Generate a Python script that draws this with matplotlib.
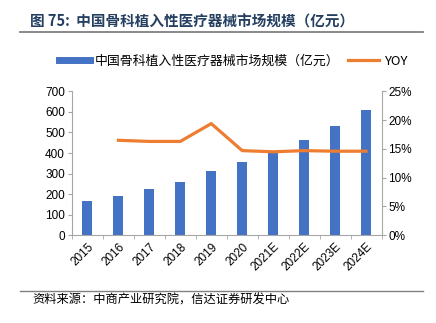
import matplotlib
matplotlib.use("Agg")
import matplotlib.pyplot as plt
from matplotlib.lines import Line2D
import numpy as np

plt.rcParams['font.family'] = ['Liberation Sans', 'Noto Sans CJK SC', 'DejaVu Sans']

years = ['2015', '2016', '2017', '2018', '2019', '2020', '2021E', '2022E', '2023E', '2024E']
market = [165, 193, 224, 260, 312, 356, 409, 463, 531, 609]
yoy = [np.nan, 16.5, 16.3, 16.3, 19.4, 14.7, 14.5, 14.7, 14.6, 14.6]
left_ticks = [0, 100, 200, 300, 400, 500, 600, 700]
right_ticks = [0, 5, 10, 15, 20, 25]

bar_label = '中国骨科植入性医疗器械市场规模（亿元）'
title = '图 75:  中国骨科植入性医疗器械市场规模（亿元）'
source = '资料来源：中商产业研究院，信达证券研发中心'

blue = '#4472C4'
orange = '#ED7D31'
gray = '#A6A6A6'
cjk = ['Noto Sans CJK SC', 'DejaVu Sans']

fig = plt.figure(figsize=(4.36, 3.23), dpi=100)
ax = fig.add_axes([0.165, 0.272, 0.71, 0.445])
x = np.arange(len(years))
ax.bar(x, market, width=0.32, color=blue, zorder=2)
ax.set_xlim(-0.5, len(years) - 0.5)
ax.set_ylim(0, 700)
ax.set_yticks(left_ticks)
ax.set_yticklabels([str(v) for v in left_ticks], fontsize=8.5)
ax.set_xticks(x)
ax.set_xticklabels(years, rotation=45, ha='right', rotation_mode='anchor', fontsize=8.5)
ax.tick_params(axis='x', length=0, pad=4)
ax.set_xticks(np.arange(-0.5, len(years), 1.0), minor=True)
ax.tick_params(axis='x', which='minor', length=3, color=gray, direction='out')
ax.tick_params(axis='y', length=3, color=gray, direction='out', pad=2)
for s in ['top', 'right']:
    ax.spines[s].set_visible(False)
for s in ['left', 'bottom']:
    ax.spines[s].set_color(gray)

ax2 = ax.twinx()
ax2.plot(x, yoy, color=orange, lw=2.3, zorder=3)
ax2.set_ylim(0, 25)
ax2.set_yticks(right_ticks)
ax2.set_yticklabels([f'{v}%' for v in right_ticks], fontsize=8.5)
ax2.tick_params(axis='y', length=3, color=gray, direction='out', pad=2)
for s in ['top', 'left', 'bottom']:
    ax2.spines[s].set_visible(False)
ax2.spines['right'].set_color(gray)

# legend
handles = [Line2D([0], [0], color=blue, lw=5), Line2D([0], [0], color=orange, lw=2.3)]
leg = fig.legend(handles, [bar_label, 'YOY'], loc='center', bbox_to_anchor=(0.535, 0.81),
                 ncol=2, frameon=False, handlelength=2.4, handletextpad=0.4, columnspacing=0.7,
                 prop={'family': cjk, 'size': 9.3})

# title and lines
fig.text(0.068, 0.933, title, fontsize=10.5, fontweight='bold', color='#243F60', family=cjk,
         va='center', ha='left')
fig.add_artist(Line2D([0.046, 0.97], [0.9, 0.9], color='#808080', lw=1.3))
fig.add_artist(Line2D([0.046, 0.97], [0.1, 0.1], color='#808080', lw=1.0))
fig.text(0.075, 0.07, source, fontsize=8.8, color='black', family=cjk, va='center', ha='left')

fig.savefig('out.png', dpi=100)
